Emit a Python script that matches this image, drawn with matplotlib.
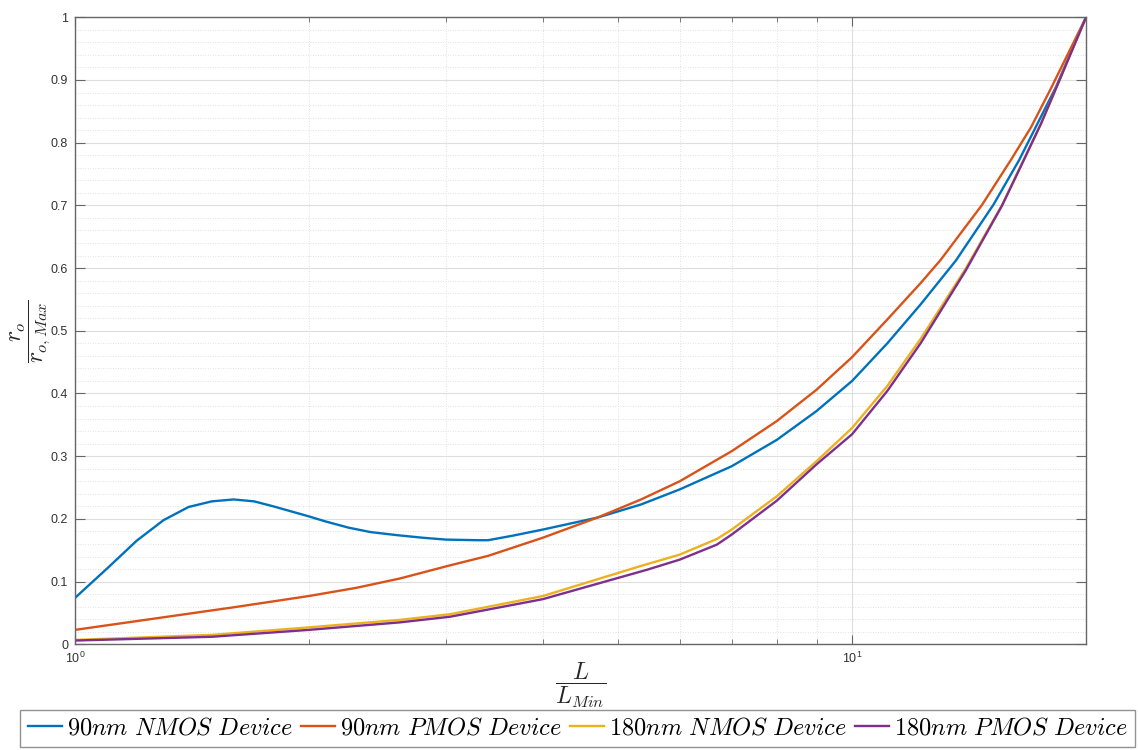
import matplotlib
matplotlib.use("Agg")
import matplotlib.pyplot as plt
from matplotlib.ticker import FixedLocator, NullFormatter, MultipleLocator

# MATLAB default line colours
COLORS = {
    "blue": "#0072BD",
    "orange": "#D95319",
    "yellow": "#EDB120",
    "purple": "#7E2F8E",
}

# 90nm NMOS
nmos90_x = [1.0, 1.1, 1.2, 1.3, 1.4, 1.5, 1.6, 1.7, 1.8, 2.0, 2.1, 2.25, 2.4, 2.6,
            2.8, 3.0, 3.3, 3.4, 3.65, 4.0, 4.7, 5.35, 6.0, 7.0, 8.0, 9.0, 10.0,
            11.1, 12.25, 13.6, 15.2, 16.4, 18.3, 20.0]
nmos90_y = [0.074, 0.121, 0.165, 0.198, 0.219, 0.228, 0.231, 0.228, 0.220, 0.204,
            0.196, 0.186, 0.179, 0.174, 0.170, 0.167, 0.166, 0.166, 0.173, 0.183,
            0.202, 0.223, 0.247, 0.284, 0.326, 0.372, 0.420, 0.480, 0.542, 0.612,
            0.701, 0.772, 0.889, 1.0]

# 90nm PMOS
pmos90_x = [1.0, 1.6, 2.0, 2.3, 2.62, 3.04, 3.4, 4.0, 4.7, 5.35, 6.0, 7.0, 8.0,
            9.0, 10.0, 11.1, 12.25, 13.0, 14.7, 16.0, 17.0, 18.0, 20.0]
pmos90_y = [0.023, 0.059, 0.077, 0.090, 0.105, 0.126, 0.141, 0.170, 0.202, 0.231,
            0.260, 0.308, 0.356, 0.406, 0.458, 0.518, 0.576, 0.613, 0.701, 0.772,
            0.825, 0.885, 1.0]

# 180nm NMOS
nmos180_x = [1.0, 1.5, 2.0, 2.62, 3.04, 4.0, 5.35, 6.0, 6.7, 7.0, 8.0, 9.0, 10.0,
             11.1, 12.25, 14.0, 15.6, 16.6, 17.5, 18.45, 20.0]
nmos180_y = [0.007, 0.015, 0.027, 0.039, 0.048, 0.077, 0.125, 0.143, 0.168, 0.183,
             0.236, 0.292, 0.345, 0.412, 0.487, 0.599, 0.701, 0.771, 0.830, 0.897, 1.0]

# 180nm PMOS
pmos180_x = [1.0, 1.5, 2.0, 2.62, 3.04, 4.0, 5.45, 6.0, 6.7, 7.0, 8.0, 9.0, 10.0,
             11.1, 12.25, 14.0, 15.6, 16.6, 17.5, 18.45, 20.0]
pmos180_y = [0.006, 0.012, 0.023, 0.035, 0.044, 0.072, 0.119, 0.135, 0.159, 0.175,
             0.229, 0.287, 0.335, 0.404, 0.480, 0.596, 0.700, 0.770, 0.830, 0.897, 1.0]

labels = [
    r"$90nm\ NMOS\ Device$",
    r"$90nm\ PMOS\ Device$",
    r"$180nm\ NMOS\ Device$",
    r"$180nm\ PMOS\ Device$",
]

plt.rcParams["font.family"] = ["Liberation Sans", "DejaVu Sans"]
plt.rcParams["mathtext.fontset"] = "cm"

fig = plt.figure(figsize=(11.38, 7.5), dpi=100)
ax = fig.add_axes([75 / 1138, 1 - 644.3 / 750, 1011 / 1138, 627 / 750])

series = [
    (nmos90_x, nmos90_y, COLORS["blue"]),
    (pmos90_x, pmos90_y, COLORS["orange"]),
    (nmos180_x, nmos180_y, COLORS["yellow"]),
    (pmos180_x, pmos180_y, COLORS["purple"]),
]
handles = []
for (xs, ys, c), lab in zip(series, labels):
    (ln,) = ax.plot(xs, ys, color=c, lw=1.7, label=lab)
    handles.append(ln)

ax.set_xscale("log")
ax.set_xlim(1, 20)
ax.set_ylim(0, 1)

ax.xaxis.set_major_locator(FixedLocator([1, 10]))
ax.set_xticklabels([r"$\mathregular{10^{0}}$", r"$\mathregular{10^{1}}$"])
ax.xaxis.set_minor_locator(FixedLocator([2, 3, 4, 5, 6, 7, 8, 9, 20]))
ax.xaxis.set_minor_formatter(NullFormatter())
ax.set_yticks([i / 10 for i in range(11)])
ax.set_yticklabels(["0", "0.1", "0.2", "0.3", "0.4", "0.5", "0.6", "0.7", "0.8", "0.9", "1"])
ax.yaxis.set_minor_locator(MultipleLocator(0.02))

ax.grid(which="major", color="#dedede", lw=0.8, ls="-")
ax.grid(which="minor", color="#d8d8d8", lw=0.6, ls=(0, (1, 2)))
ax.set_axisbelow(True)

ax.tick_params(axis="both", which="both", direction="in", colors="#666666",
               labelcolor="#333333", labelsize=9, top=True, right=True)
ax.tick_params(axis="y", which="major", length=7.2, pad=5)
ax.tick_params(axis="y", which="minor", length=0)
ax.tick_params(axis="x", which="major", length=6.5, pad=5)
ax.tick_params(axis="x", which="minor", length=3.6)
for s in ax.spines.values():
    s.set_color("#666666")
    s.set_linewidth(1.0)

ax.set_xlabel(r"$\dfrac{L}{L_{Min}}$", fontsize=17, color="#262626")
ax.xaxis.set_label_coords(0.5, -0.026)
ax.set_ylabel(r"$\dfrac{r_o}{r_{o,Max}}$", fontsize=17, color="#262626")
ax.yaxis.set_label_coords(-0.022, 0.5)

leg = fig.legend(handles, labels, loc="lower center", bbox_to_anchor=(0.5075, 0.004),
                 ncol=4, fontsize=17.5, frameon=True, fancybox=False, edgecolor="#777777",
                 handlelength=1.4, handletextpad=0.2, columnspacing=0.35,
                 borderpad=0.3, borderaxespad=0)
leg.get_frame().set_linewidth(1.0)

fig.savefig("out.png", dpi=100, facecolor="white")
